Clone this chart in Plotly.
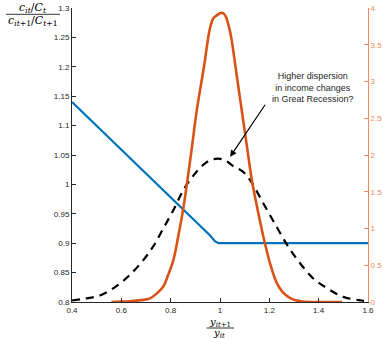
import plotly.graph_objects as go

# ---- data ----
blue_x = [0.40, 0.96, 0.98, 0.995, 1.60]
blue_y = [1.14, 0.913, 0.903, 0.90, 0.90]

orange_x = [0.56, 0.60, 0.635, 0.68, 0.716, 0.745, 0.770, 0.79, 0.811, 0.83, 0.851, 0.88,
            0.906, 0.935, 0.959, 0.973, 0.987, 1.0, 1.013, 1.024, 1.034, 1.045, 1.065,
            1.088, 1.11, 1.129, 1.151, 1.182, 1.205, 1.230, 1.255, 1.277, 1.30, 1.337,
            1.40, 1.495]
orange_y = [0.0, 0.005, 0.01, 0.025, 0.05, 0.12, 0.21, 0.37, 0.57, 0.88, 1.27, 1.95,
            2.61, 3.2, 3.72, 3.86, 3.90, 3.93, 3.93, 3.88, 3.77, 3.61, 3.15,
            2.61, 2.1, 1.66, 1.28, 0.80, 0.5, 0.26, 0.13, 0.07, 0.03, 0.005,
            0.0, 0.0]

black_x = [0.40, 0.45, 0.518, 0.586, 0.635, 0.689, 0.73, 0.770, 0.811, 0.851, 0.892, 0.93,
           0.96, 0.993, 1.02, 1.053, 1.09, 1.122, 1.176, 1.230, 1.277, 1.324, 1.378,
           1.433, 1.499, 1.574, 1.60]
black_y = [0.02, 0.045, 0.095, 0.23, 0.37, 0.57, 0.76, 1.0, 1.25, 1.52, 1.72, 1.86,
           1.93, 1.95, 1.93, 1.85, 1.78, 1.66, 1.34, 1.02, 0.75, 0.53, 0.32,
           0.19, 0.07, 0.02, 0.01]

x_ticks = [0.4, 0.6, 0.8, 1.0, 1.2, 1.4, 1.6]
x_ticktext = ["0.4", "0.6", "0.8", "1", "1.2", "1.4", "1.6"]
yl_ticks = [0.8, 0.85, 0.9, 0.95, 1.0, 1.05, 1.1, 1.15, 1.2, 1.25, 1.3]
yl_ticktext = ["0.8", "0.85", "0.9", "0.95", "1", "1.05", "1.1", "1.15", "1.2", "1.25", "1.3"]
yr_ticks = [0, 0.5, 1, 1.5, 2, 2.5, 3, 3.5, 4]
yr_ticktext = ["0", "0.5", "1", "1.5", "2", "2.5", "3", "3.5", "4"]

annot_text = "Higher dispersion<br>in income changes<br>in Great Recession?"

BLUE = "#0072BD"
ORANGE = "#D95319"
ORANGE_AX = "#EC8A5E"
TXT = "#262626"

W, H = 383, 338
L, R, T, B = 72, 15, 8, 36
PW, PH = W - L - R, H - T - B


def px_x(p):
    return (p - L) / PW


def px_y(p):
    return (H - B - p) / PH


fig = go.Figure()
fig.add_trace(go.Scatter(x=blue_x, y=blue_y, mode="lines",
                         line=dict(color=BLUE, width=2.2), yaxis="y", showlegend=False))
fig.add_trace(go.Scatter(x=black_x, y=black_y, mode="lines", line_shape="spline",
                         line=dict(color="black", width=2.2, dash="8px,6px"),
                         yaxis="y2", showlegend=False))
fig.add_trace(go.Scatter(x=orange_x, y=orange_y, mode="lines", line_shape="spline",
                         line=dict(color=ORANGE, width=2.6), yaxis="y2", showlegend=False))

tickfont = dict(family="Liberation Sans, Arial", size=8, color=TXT)

fig.update_layout(
    template="none",
    width=W, height=H,
    margin=dict(l=L, r=R, t=T, b=B, pad=0, autoexpand=False),
    paper_bgcolor="white", plot_bgcolor="white",
    xaxis=dict(range=[0.4, 1.6], tickvals=x_ticks, ticktext=x_ticktext, automargin=False,
               showgrid=False, zeroline=False, showline=True, linecolor="#262626",
               linewidth=1, ticks="inside", ticklen=4, tickcolor="#262626",
               tickfont=tickfont),
    yaxis=dict(range=[0.8, 1.3], tickvals=yl_ticks, ticktext=yl_ticktext, automargin=False,
               showgrid=False, zeroline=False, showline=True, linecolor="#262626",
               linewidth=1, ticks="inside", ticklen=4, tickcolor="#262626",
               tickfont=tickfont),
    yaxis2=dict(range=[0, 4], tickvals=yr_ticks, ticktext=yr_ticktext, automargin=False,
                overlaying="y", side="right", anchor="x",
                showgrid=False, zeroline=False, showline=True, linecolor=ORANGE_AX,
                linewidth=1, ticks="inside", ticklen=4, tickcolor=ORANGE_AX,
                tickfont=dict(family="Liberation Sans, Arial", size=8, color=ORANGE_AX)),
)

serif = dict(family="DejaVu Serif, Liberation Serif", size=11, color="black")
serif_x = dict(family="DejaVu Serif, Liberation Serif", size=10, color="black")

annotations = [
    # arrow
    dict(x=1.041, y=1.047, xref="x", yref="y", ax=1.187, ay=1.138, axref="x", ayref="y",
         text="", showarrow=True, arrowhead=2, arrowsize=1.1, arrowwidth=1.2,
         arrowcolor="black"),
    # annotation text
    dict(x=1.375, y=1.165, xref="x", yref="y", text=annot_text, showarrow=False,
         align="center", font=dict(family="Liberation Sans, Arial", size=9, color=TXT)),
    # y label fraction
    dict(x=px_x(33), y=px_y(8), xref="paper", yref="paper", showarrow=False,
         text="<i>c</i><sub><i>it</i></sub>/<i>C</i><sub><i>t</i></sub>", font=serif,
         xanchor="center", yanchor="middle"),
    dict(x=px_x(33), y=px_y(21), xref="paper", yref="paper", showarrow=False,
         text="<i>c</i><sub><i>it</i>+1</sub>/<i>C</i><sub><i>t</i>+1</sub>", font=serif,
         xanchor="center", yanchor="middle"),
    # x label fraction
    dict(x=px_x(220), y=px_y(322.5), xref="paper", yref="paper", showarrow=False,
         text="<i>y</i><sub><i>it</i>+1</sub>", font=serif_x,
         xanchor="center", yanchor="middle"),
    dict(x=px_x(219), y=px_y(333.5), xref="paper", yref="paper", showarrow=False,
         text="<i>y</i><sub><i>it</i></sub>", font=serif_x,
         xanchor="center", yanchor="middle"),
]
fig.update_layout(annotations=annotations)

fig.add_shape(type="line", xref="paper", yref="paper",
              x0=px_x(6), x1=px_x(60), y0=px_y(14.3), y1=px_y(14.3),
              line=dict(color="black", width=0.8))
fig.add_shape(type="line", xref="paper", yref="paper",
              x0=px_x(206.5), x1=px_x(234), y0=px_y(328), y1=px_y(328),
              line=dict(color="black", width=0.8))

fig.write_html("out.html")
